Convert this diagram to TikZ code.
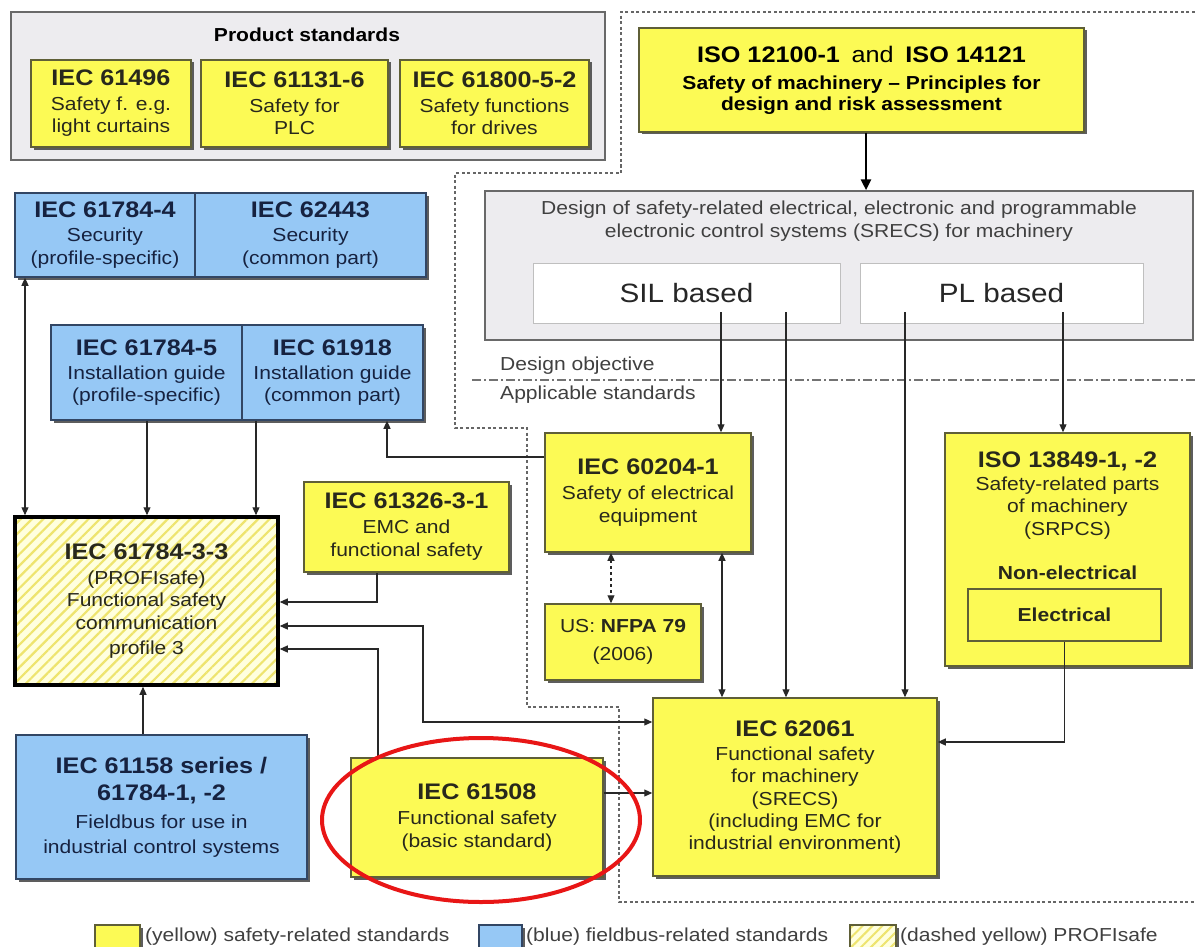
\documentclass[tikz,border=0pt]{standalone}
\usepackage{fontspec}
\setmainfont{Liberation Sans}[FakeStretch=1.12]
\usetikzlibrary{arrows.meta,shadows,patterns.meta}
\definecolor{yfill}{RGB}{252,250,85}
\definecolor{yedge}{RGB}{95,95,55}
\definecolor{bfill}{RGB}{150,200,245}
\definecolor{bedge}{RGB}{50,70,100}
\definecolor{gfill}{RGB}{237,236,239}
\definecolor{gedge}{RGB}{105,105,105}
\definecolor{ytext}{RGB}{40,40,28}
\definecolor{btext}{RGB}{22,34,64}
\definecolor{conn}{RGB}{40,40,40}
\definecolor{lyel}{RGB}{255,255,222}
\definecolor{hatchy}{RGB}{238,228,110}
\definecolor{ellred}{RGB}{232,22,22}
\newcommand\fBody{\fontsize{18.8}{23}\selectfont}
\newcommand\fTitle{\fontsize{22.5}{25}\selectfont\bfseries}
\newcommand\fSub{\fontsize{18.8}{22}\selectfont\bfseries}
\newcommand\fAnd{\fontsize{22.5}{25}\selectfont}
\newcommand\fBig{\fontsize{26.5}{30}\selectfont}
\begin{document}
\begin{tikzpicture}[x=1pt,y=-1pt,
  base/.style={draw, line width=1.5pt, inner sep=0pt, align=center, font=\fBody},
  shad/.style={drop shadow={shadow xshift=2.5pt, shadow yshift=-2.5pt, fill=black!70, opacity=.9}},
  ybox/.style={base, shad, fill=yfill, draw=yedge, text=ytext},
  bbox/.style={base, shad, fill=bfill, draw=bedge, text=btext},
  gbox/.style={draw=gedge, fill=gfill, line width=1.5pt, inner sep=0pt},
  wbox/.style={draw=black!25, fill=white, line width=1pt, inner sep=0pt, font=\fBig, text=black!85},
  psbox/.style={base, drop shadow={shadow xshift=2pt, shadow yshift=-2pt, fill=black, opacity=1},
     preaction={fill=lyel}, pattern={Lines[angle=45,distance=8pt,line width=2.2pt]}, pattern color=hatchy,
     draw=black, line width=3.5pt, text=ytext},
  hatchleg/.style={base, shad, preaction={fill=lyel}, pattern={Lines[angle=45,distance=7pt,line width=2pt]},
     pattern color=hatchy, draw=yedge},
  txt/.style={inner sep=0pt, align=center, font=\fBody, text=ytext},
  smalltext/.style={inner sep=0pt, font=\fBody, text=black!75},
  arr/.style={draw=conn, line width=1.1pt, -{Triangle[length=8pt,width=7pt]}},
  darr/.style={draw=conn, line width=1.1pt, {Triangle[length=8pt,width=7pt]}-{Triangle[length=8pt,width=7pt]}},
  bigarrow/.style={draw=black, line width=2.6pt, -{Triangle[length=11pt,width=10pt]}},
  regionline/.style={draw=black!60, line width=1.2pt, dash pattern=on 3pt off 2.5pt},
  sepline/.style={draw=black!55, line width=1.2pt, dash pattern=on 9pt off 3pt on 2pt off 3pt}
]
\useasboundingbox[fill=white] (0,0) rectangle (1196,947);

% dashed region and design objective separator
\draw[regionline] (1200,12) -- (621,12) -- (621,173) -- (455,173) -- (455,428) -- (527,428)
   -- (527,707) -- (619,707) -- (619,902) -- (1200,902);
\draw[sepline] (472,380) -- (1200,380);
\node[smalltext, anchor=west] (dobj) at (500,366) {Design objective};
\node[smalltext, anchor=west] (appl) at (500,395) {Applicable standards};

% product standards
\node[gbox, minimum width=594pt, minimum height=148pt] (prod) at (308,86) {};
\node[inner sep=0pt, font=\fSub] (prodt) at (307,35) {Product standards};
\node[ybox, minimum width=160pt, minimum height=87pt] (p1) at (111,103.5)
  {{\fTitle IEC 61496}\\[2pt] Safety f. e.g.\\[-1pt] light curtains};
\node[ybox, minimum width=187pt, minimum height=87pt] (p2) at (294.5,103.5)
  {{\fTitle IEC 61131-6}\\[2pt] Safety for\\[-1pt] PLC};
\node[ybox, minimum width=189pt, minimum height=87pt] (p3) at (494.5,103.5)
  {{\fTitle IEC 61800-5-2}\\[2pt] Safety functions\\[-1pt] for drives};

% ISO 12100
\node[ybox, minimum width=445pt, minimum height=104pt, text=black] (iso) at (861.5,80)
  {{\fTitle ISO 12100-1}\ \ {\fAnd and}\ \ {\fTitle ISO 14121}\\[4pt]
   {\fSub Safety of machinery – Principles for}\\[-2pt] {\fSub design and risk assessment}};

% SRECS
\node[gbox, minimum width=708pt, minimum height=149pt] (srecs) at (839,265.5) {};
\node[txt, text=black!75] (srecst) at (839,221.5)
  {Design of safety-related electrical, electronic and programmable\\ electronic control systems (SRECS) for machinery};
\node[wbox, minimum width=307pt, minimum height=60pt] (sil) at (686.5,293) {SIL based};
\node[wbox, minimum width=283pt, minimum height=60pt] (pl) at (1001.5,293) {PL based};

% blue boxes
\node[bbox, minimum width=180pt, minimum height=84pt] (b1a) at (105,235)
  {{\fTitle IEC 61784-4}\\[1pt] Security\\ (profile-specific)};
\node[bbox, minimum width=231pt, minimum height=84pt] (b1b) at (310.5,235)
  {{\fTitle IEC 62443}\\[1pt] Security\\ (common part)};
\node[bbox, minimum width=191pt, minimum height=95pt] (b2a) at (146.5,372.5)
  {{\fTitle IEC 61784-5}\\[1pt] Installation guide\\[-1pt] (profile-specific)};
\node[bbox, minimum width=181pt, minimum height=95pt] (b2b) at (332.5,372.5)
  {{\fTitle IEC 61918}\\[1pt] Installation guide\\[-1pt] (common part)};

% PROFIsafe
\node[psbox, minimum width=263pt, minimum height=168pt] (ps) at (146.5,601)
  {{\fTitle IEC 61784-3-3}\\[2pt] (PROFIsafe)\\[-1pt] Functional safety\\ communication\\[2pt] profile 3};

% yellow standards
\node[ybox, minimum width=205pt, minimum height=90pt] (emc) at (406.5,527)
  {{\fTitle IEC 61326-3-1}\\[2pt] EMC and\\ functional safety};
\node[ybox, minimum width=206pt, minimum height=119pt] (e204) at (648,492.5)
  {{\fTitle IEC 60204-1}\\[2pt] Safety of electrical\\ equipment};
\node[ybox, minimum width=156pt, minimum height=76pt] (nfpa) at (623,642)
  {US: \textbf{NFPA 79}\\[5pt] (2006)};
\node[ybox, minimum width=245pt, minimum height=233pt] (i13849) at (1067.5,549.5) {};
\node[txt] (i13849t) at (1067.5,496)
  {{\fTitle ISO 13849-1, -2}\\ Safety-related parts\\[-1pt] of machinery\\ (SRPCS)};
\node[inner sep=0pt, font=\fSub, text=ytext] (nonel) at (1067.5,573) {Non-electrical};
\node[draw=yedge, line width=1.5pt, inner sep=0pt, minimum width=193pt, minimum height=52pt,
      font=\fSub, text=ytext] (elec) at (1064.5,615) {Electrical};

\node[bbox, minimum width=291pt, minimum height=144pt] (fb) at (161.5,807)
  {{\fTitle IEC 61158 series /}\\[4pt] {\fTitle 61784-1, -2}\\[5pt] Fieldbus for use in\\[2pt] industrial control systems};
\node[ybox, minimum width=252pt, minimum height=119pt] (i61508) at (477,817.5)
  {{\fTitle IEC 61508}\\[2pt] Functional safety\\ (basic standard)};
\node[ybox, minimum width=284pt, minimum height=178pt] (i62061) at (795,787)
  {{\fTitle IEC 62061}\\[1pt] Functional safety\\[-1pt] for machinery\\ (SRECS)\\[-1pt] (including EMC for\\[-1pt] industrial environment)};

% connectors
\coordinate (T) at (866,0);
\draw[bigarrow] (T |- iso.south) -- (T |- srecs.north);
\coordinate (sA) at (721,312);
\coordinate (sB) at (786,312);
\coordinate (pA) at (905,312);
\coordinate (pB) at (1063,312);
\draw[arr] (sA) -- (sA |- e204.north);
\draw[arr] (sB) -- (sB |- i62061.north);
\draw[arr] (pA) -- (pA |- i62061.north);
\draw[arr] (pB) -- (pB |- i13849.north);

\coordinate (L1) at (25,0);
\draw[darr] (L1 |- b1a.south) -- (L1 |- ps.north);
\coordinate (L2) at (147,0);
\draw[arr] (L2 |- b2a.south) -- (L2 |- ps.north);
\coordinate (L3) at (256,0);
\draw[arr] (L3 |- b2b.south) -- (L3 |- ps.north);

\coordinate (K0) at (377,602);
\draw[arr] (K0 |- emc.south) -- (K0) -- (ps.east |- K0);
\coordinate (K1) at (423,626);
\coordinate (K2) at (423,722);
\draw[darr] (ps.east |- K1) -- (K1) -- (K2) -- (i62061.west |- K2);
\coordinate (K3) at (378,649);
\draw[arr] (K3 |- i61508.north) -- (K3) -- (ps.east |- K3);
\coordinate (L5) at (143,0);
\draw[arr] (L5 |- fb.north) -- (L5 |- ps.south);
\coordinate (K4) at (0,793);
\draw[arr] (i61508.east |- K4) -- (i62061.west |- K4);
\coordinate (K5) at (387,457);
\draw[arr] (e204.west |- K5) -- (K5) -- (K5 |- b2b.south);
\coordinate (L6) at (611,0);
\draw[darr, dashed] (L6 |- e204.south) -- (L6 |- nfpa.north);
\coordinate (L7) at (722,0);
\draw[darr] (L7 |- e204.south) -- (L7 |- i62061.north);
\coordinate (K6) at (0,742);
\draw[arr] (elec.south) |- (i62061.east |- K6);

% legend
\node[ybox, minimum width=45pt, minimum height=32pt] (leg1) at (117.5,941) {};
\node[smalltext, anchor=west] (leg1t) at (145,937) {(yellow) safety-related standards};
\node[bbox, minimum width=43pt, minimum height=32pt] (leg2) at (500.5,941) {};
\node[smalltext, anchor=west] (leg2t) at (526,937) {(blue) fieldbus-related standards};
\node[hatchleg, minimum width=46pt, minimum height=32pt] (leg3) at (873,941) {};
\node[smalltext, anchor=west] (leg3t) at (900,937) {(dashed yellow) PROFIsafe};

% red highlight
\draw[ellred, line width=4pt] (481,820) ellipse [x radius=159, y radius=82];
\end{tikzpicture}
\end{document}
